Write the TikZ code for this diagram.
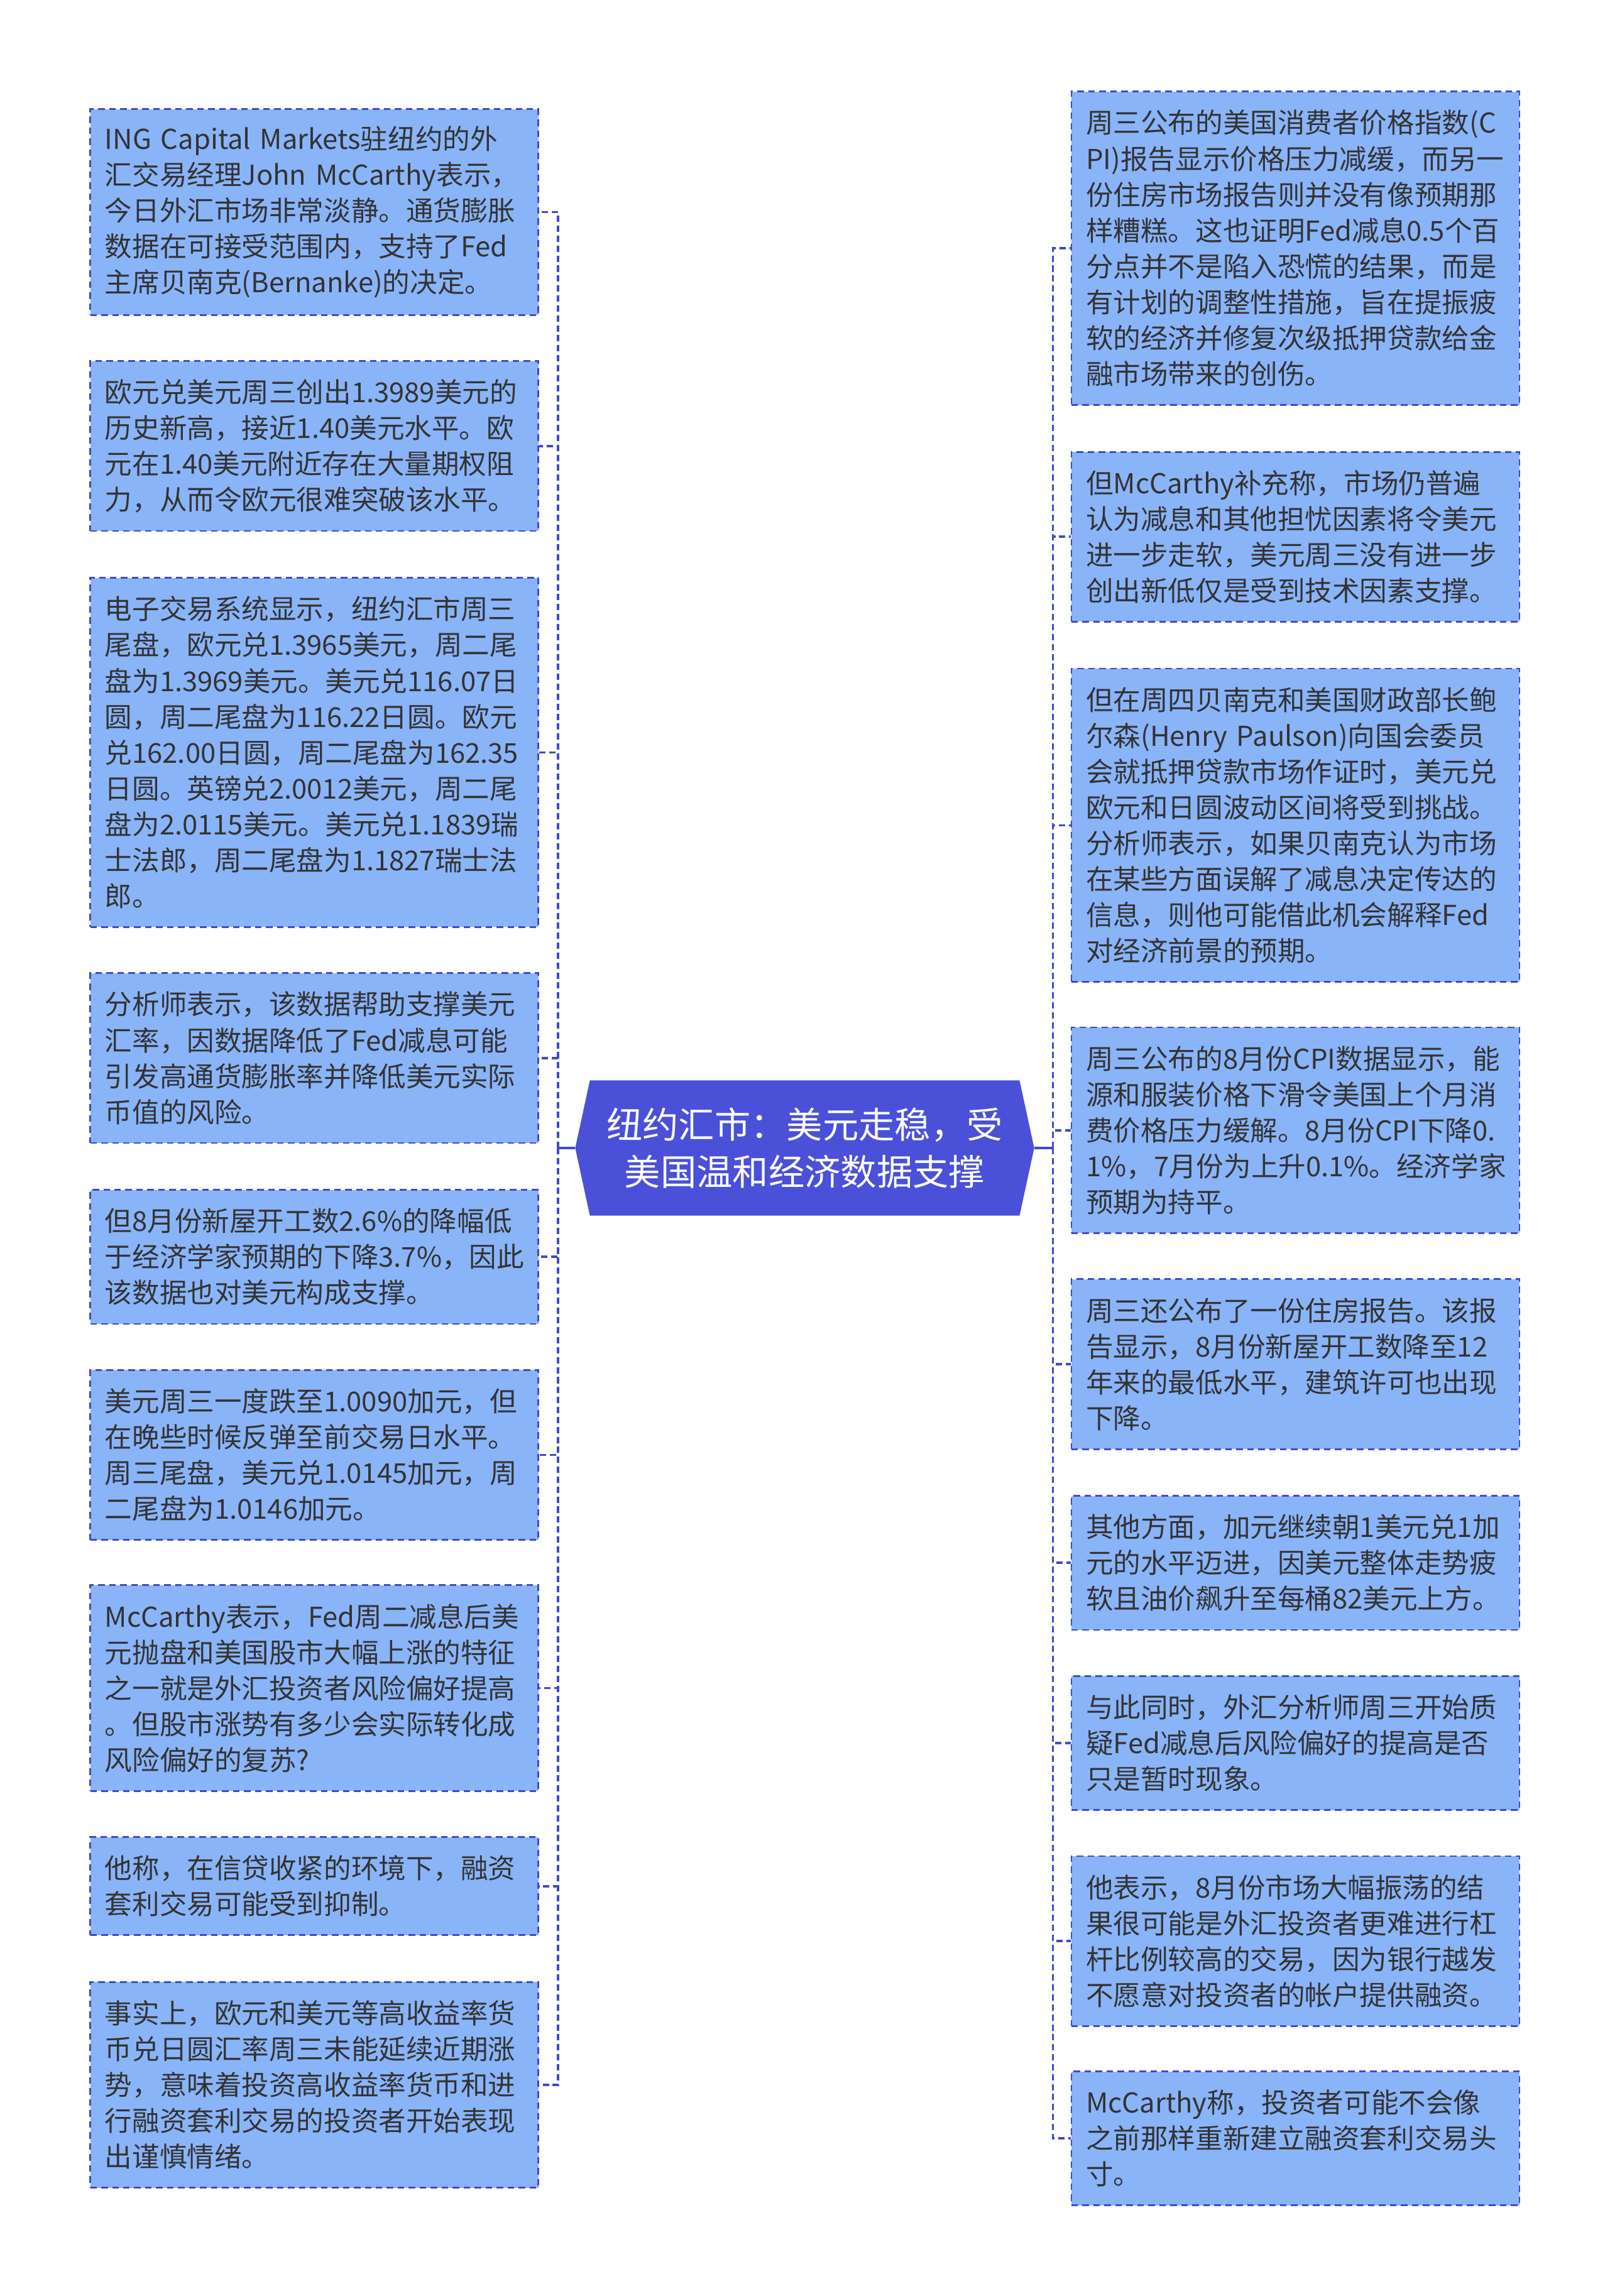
\documentclass[tikz,border=0pt]{standalone}
\usepackage{fontspec}
\setmainfont{Noto Sans CJK SC}
\usetikzlibrary{backgrounds}
\definecolor{leaffill}{HTML}{8AB4F8}
\definecolor{leafline}{HTML}{3F4BC8}
\definecolor{hubfill}{HTML}{4A50D8}
\definecolor{inktext}{HTML}{333333}

\begin{document}
\begin{tikzpicture}[
  x=1pt, y=-1pt,
  leaf/.style={draw=leafline, fill=leaffill, line width=1.2pt, dash pattern=on 4.5pt off 3pt,
    anchor=north west, minimum width=306pt, text width=286pt, inner xsep=10pt, inner ysep=3pt,
    align=left, text=inktext, font=\fontsize{18.7pt}{24.5pt}\selectfont},
  hub/.style={minimum width=313pt, minimum height=92pt, inner sep=0pt, align=center,
    text=white, font=\fontsize{24.6pt}{32pt}\selectfont},
  link/.style={leafline, line width=1.6pt, dash pattern=on 4.3pt off 2.5pt},
  stub/.style={leafline, line width=1.6pt}
]
  \useasboundingbox (0,0) rectangle (1099,1568);

  % Centre topic
  \node[hub] (ctr) at (549.5,784) {纽约汇市：美元走稳，受\\美国温和经济数据支撑};
  \begin{scope}[on background layer]
    \fill[hubfill] (ctr.west) -- ([xshift=10pt]ctr.north west) -- ([xshift=-10pt]ctr.north east)
      -- (ctr.east) -- ([xshift=-10pt]ctr.south east) -- ([xshift=10pt]ctr.south west) -- cycle;
  \end{scope}
  \coordinate (ltrunk) at (381,784);
  \coordinate (rtrunk) at (719,784);

  % Left column
  \node[leaf, minimum height=140.5pt] (L1) at (61,74) {ING~Capital~Markets驻纽约的外\\汇交易经理John~McCarthy表示，\\今日外汇市场非常淡静。通货膨胀\\数据在可接受范围内，支持了Fed\\主席贝南克(Bernanke)的决定。};
  \node[leaf, minimum height=116pt] (L2) at (61,246) {欧元兑美元周三创出1.3989美元的\\历史新高，接近1.40美元水平。欧\\元在1.40美元附近存在大量期权阻\\力，从而令欧元很难突破该水平。};
  \node[leaf, minimum height=238.5pt] (L3) at (61,394) {电子交易系统显示，纽约汇市周三\\尾盘，欧元兑1.3965美元，周二尾\\盘为1.3969美元。美元兑116.07日\\圆，周二尾盘为116.22日圆。欧元\\兑162.00日圆，周二尾盘为162.35\\日圆。英镑兑2.0012美元，周二尾\\盘为2.0115美元。美元兑1.1839瑞\\士法郎，周二尾盘为1.1827瑞士法\\郎。};
  \node[leaf, minimum height=116pt] (L4) at (61,664) {分析师表示，该数据帮助支撑美元\\汇率，因数据降低了Fed减息可能\\引发高通货膨胀率并降低美元实际\\币值的风险。};
  \node[leaf, minimum height=91.5pt] (L5) at (61,812) {但8月份新屋开工数2.6\%的降幅低\\于经济学家预期的下降3.7\%，因此\\该数据也对美元构成支撑。};
  \node[leaf, minimum height=116pt] (L6) at (61,935) {美元周三一度跌至1.0090加元，但\\在晚些时候反弹至前交易日水平。\\周三尾盘，美元兑1.0145加元，周\\二尾盘为1.0146加元。};
  \node[leaf, minimum height=140.5pt] (L7) at (61,1082) {McCarthy表示，Fed周二减息后美\\元抛盘和美国股市大幅上涨的特征\\之一就是外汇投资者风险偏好提高\\。但股市涨势有多少会实际转化成\\风险偏好的复苏?};
  \node[leaf, minimum height=67pt] (L8) at (61,1254) {他称，在信贷收紧的环境下，融资\\套利交易可能受到抑制。};
  \node[leaf, minimum height=140.5pt] (L9) at (61,1353) {事实上，欧元和美元等高收益率货\\币兑日圆汇率周三未能延续近期涨\\势，意味着投资高收益率货币和进\\行融资套利交易的投资者开始表现\\出谨慎情绪。};

  % Right column
  \node[leaf, minimum height=214pt] (R1) at (731,62) {周三公布的美国消费者价格指数(C\\PI)报告显示价格压力减缓，而另一\\份住房市场报告则并没有像预期那\\样糟糕。这也证明Fed减息0.5个百\\分点并不是陷入恐慌的结果，而是\\有计划的调整性措施，旨在提振疲\\软的经济并修复次级抵押贷款给金\\融市场带来的创伤。};
  \node[leaf, minimum height=116pt] (R2) at (731,308) {但McCarthy补充称，市场仍普遍\\认为减息和其他担忧因素将令美元\\进一步走软，美元周三没有进一步\\创出新低仅是受到技术因素支撑。};
  \node[leaf, minimum height=214pt] (R3) at (731,456) {但在周四贝南克和美国财政部长鲍\\尔森(Henry~Paulson)向国会委员\\会就抵押贷款市场作证时，美元兑\\欧元和日圆波动区间将受到挑战。\\分析师表示，如果贝南克认为市场\\在某些方面误解了减息决定传达的\\信息，则他可能借此机会解释Fed\\对经济前景的预期。};
  \node[leaf, minimum height=140.5pt] (R4) at (731,701) {周三公布的8月份CPI数据显示，能\\源和服装价格下滑令美国上个月消\\费价格压力缓解。8月份CPI下降0.\\1\%，7月份为上升0.1\%。经济学家\\预期为持平。};
  \node[leaf, minimum height=116pt] (R5) at (731,873) {周三还公布了一份住房报告。该报\\告显示，8月份新屋开工数降至12\\年来的最低水平，建筑许可也出现\\下降。};
  \node[leaf, minimum height=91.5pt] (R6) at (731,1021) {其他方面，加元继续朝1美元兑1加\\元的水平迈进，因美元整体走势疲\\软且油价飙升至每桶82美元上方。};
  \node[leaf, minimum height=91.5pt] (R7) at (731,1144) {与此同时，外汇分析师周三开始质\\疑Fed减息后风险偏好的提高是否\\只是暂时现象。};
  \node[leaf, minimum height=116pt] (R8) at (731,1267) {他表示，8月份市场大幅振荡的结\\果很可能是外汇投资者更难进行杠\\杆比例较高的交易，因为银行越发\\不愿意对投资者的帐户提供融资。};
  \node[leaf, minimum height=91.5pt] (R9) at (731,1414) {McCarthy称，投资者可能不会像\\之前那样重新建立融资套利交易头\\寸。};

  % Left links
  \draw[stub] (ctr.west) -- (ltrunk);
  \draw[link] (ltrunk) |- (L1.east);
  \draw[link] (ltrunk) |- (L2.east);
  \draw[link] (ltrunk) |- (L3.east);
  \draw[link] (ltrunk) |- (L4.east);
  \draw[link] (ltrunk) |- (L5.east);
  \draw[link] (ltrunk) |- (L6.east);
  \draw[link] (ltrunk) |- (L7.east);
  \draw[link] (ltrunk) |- (L8.east);
  \draw[link] (ltrunk) |- (L9.east);

  % Right links
  \draw[stub] (ctr.east) -- (rtrunk);
  \draw[link] (rtrunk) |- (R1.west);
  \draw[link] (rtrunk) |- (R2.west);
  \draw[link] (rtrunk) |- (R3.west);
  \draw[link] (rtrunk) |- (R4.west);
  \draw[link] (rtrunk) |- (R5.west);
  \draw[link] (rtrunk) |- (R6.west);
  \draw[link] (rtrunk) |- (R7.west);
  \draw[link] (rtrunk) |- (R8.west);
  \draw[link] (rtrunk) |- (R9.west);

\end{tikzpicture}
\end{document}
